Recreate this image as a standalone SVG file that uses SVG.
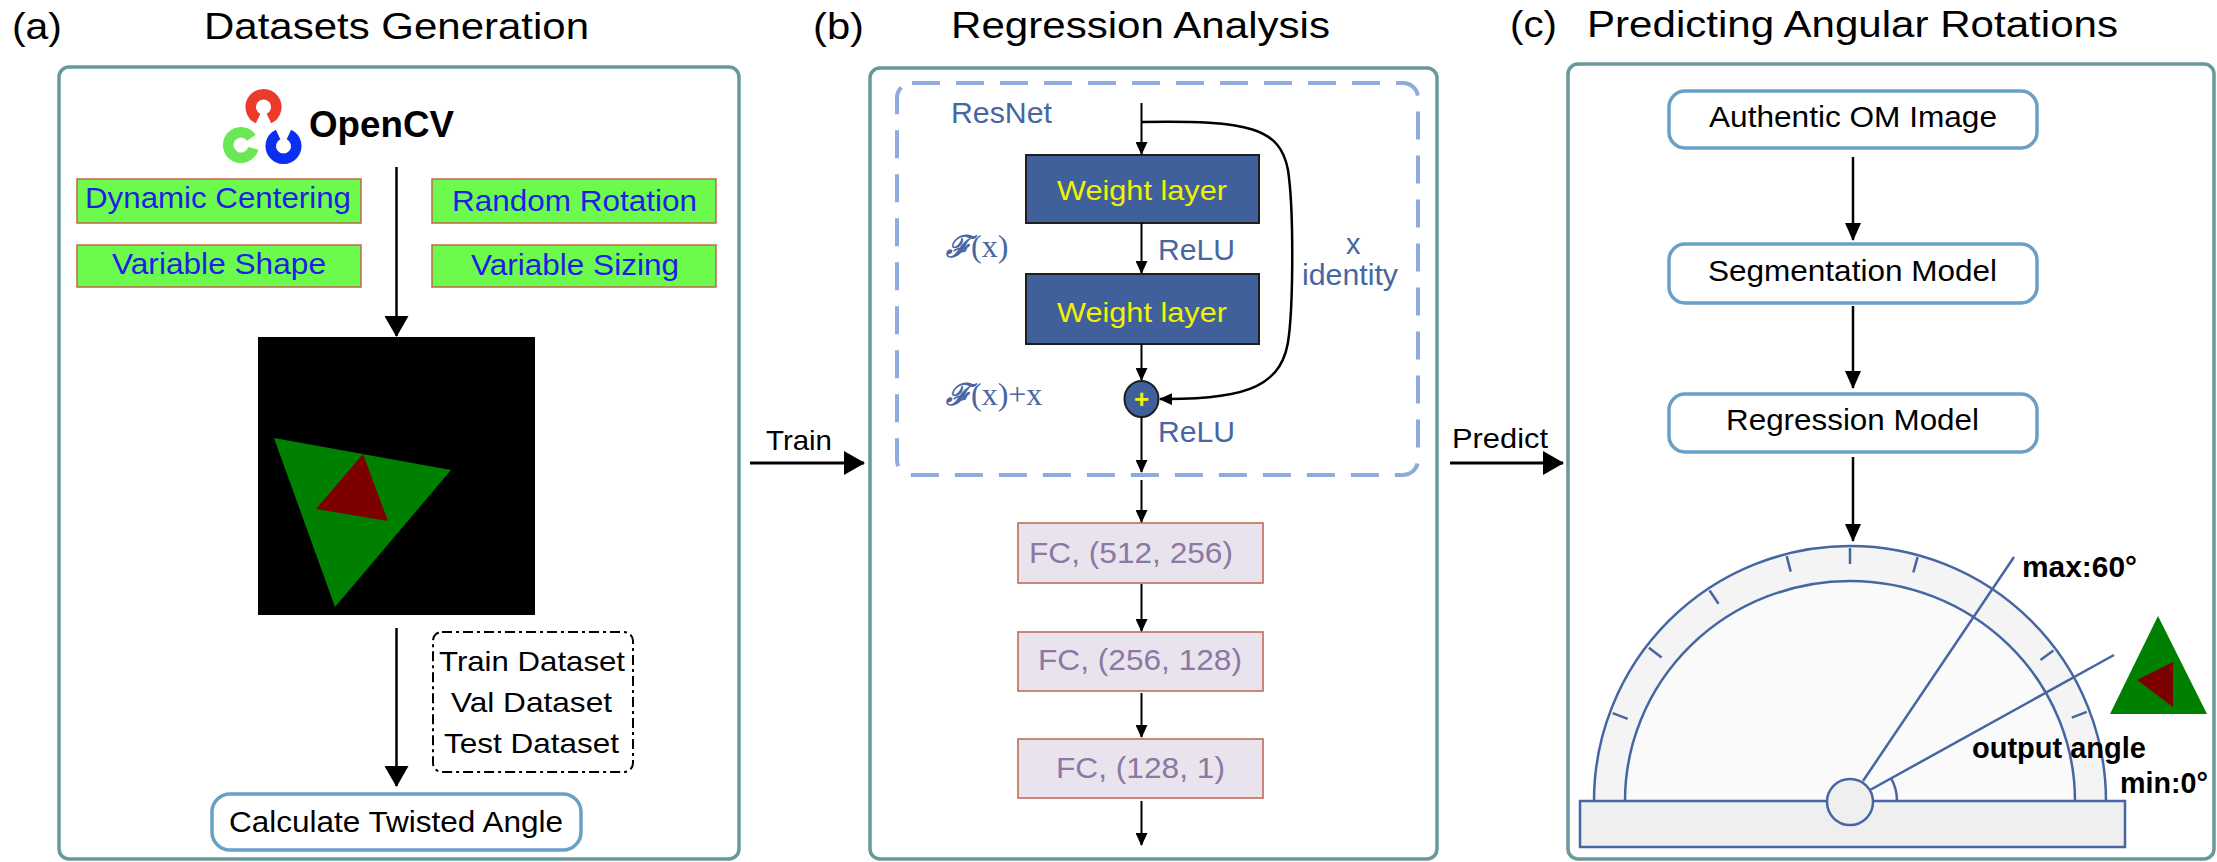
<svg xmlns="http://www.w3.org/2000/svg" width="2217" height="862" viewBox="0 0 2217 862">
  <defs>
    <style>
      .sans{font-family:"Liberation Sans",Arial,sans-serif}
      .title{font-family:"Liberation Sans",Arial,sans-serif;font-size:36px;fill:#000}
      .panel{fill:#fff;stroke:#67999a;stroke-width:3.5}
      .feat rect{fill:#6cfb4c;stroke:#c0684e;stroke-width:1.5}
      .feat text{font-family:"Liberation Sans",Arial,sans-serif;font-size:30px;fill:#1e1ee6}
      .lbl{font-family:"Liberation Sans",Arial,sans-serif;font-size:28px;fill:#000}
      .step rect{fill:#fff;stroke:#69a0c6;stroke-width:3.5}
      .step text{font-family:"Liberation Sans",Arial,sans-serif;font-size:29px;fill:#000}
      .res{font-family:"Liberation Sans",Arial,sans-serif;font-size:29px;fill:#4766a2}
      .math{font-family:"Liberation Serif","DejaVu Serif",serif;font-size:32px;fill:#4766a2}
      .wl rect{fill:#40609b;stroke:#1e1e1e;stroke-width:2}
      .wl text{font-family:"Liberation Sans",Arial,sans-serif;font-size:28px;fill:#f2f200}
      .fc rect{fill:#e9e3ee;stroke:#c06c58;stroke-width:1.6}
      .fc text{font-family:"Liberation Sans",Arial,sans-serif;font-size:30px;fill:#8b78a3}
      .conn path{fill:none;stroke:#000}
      .prot{fill:none;stroke:#4566a3;stroke-width:2.5}
      .note{font-family:"Liberation Sans",Arial,sans-serif;font-size:29px;font-weight:bold;fill:#000}
    </style>
    <marker id="big" viewBox="0 0 21 24" refX="20" refY="12" markerWidth="21" markerHeight="24" markerUnits="userSpaceOnUse" orient="auto">
      <path d="M0,0 L21,12 L0,24 z" fill="#000"/>
    </marker>
    <marker id="mid" viewBox="0 0 18 16" refX="17" refY="8" markerWidth="18" markerHeight="16" markerUnits="userSpaceOnUse" orient="auto">
      <path d="M0,0 L18,8 L0,16 z" fill="#000"/>
    </marker>
    <marker id="small" viewBox="0 0 13 12" refX="12" refY="6" markerWidth="13" markerHeight="12" markerUnits="userSpaceOnUse" orient="auto">
      <path d="M0,0 L13,6 L0,12 z" fill="#000"/>
    </marker>
    <filter id="soft" x="-5%" y="-5%" width="110%" height="110%">
      <feGaussianBlur stdDeviation="0.7"/>
    </filter>
  </defs>

  <rect width="2217" height="862" fill="#fff"/>

  <!-- section titles -->
  <g id="titles">
    <text class="title" x="12" y="39" textLength="50" lengthAdjust="spacingAndGlyphs">(a)</text>
    <text class="title" x="204" y="39" textLength="385" lengthAdjust="spacingAndGlyphs">Datasets Generation</text>
    <text class="title" x="813" y="39" textLength="51" lengthAdjust="spacingAndGlyphs">(b)</text>
    <text class="title" x="951" y="38" textLength="379" lengthAdjust="spacingAndGlyphs">Regression Analysis</text>
    <text class="title" x="1510" y="37" textLength="47" lengthAdjust="spacingAndGlyphs">(c)</text>
    <text class="title" x="1587" y="37" textLength="531" lengthAdjust="spacingAndGlyphs">Predicting Angular Rotations</text>
  </g>

  <!-- panel frames -->
  <g id="panels">
    <rect class="panel" x="59" y="67" width="680" height="792" rx="10"/>
    <rect class="panel" x="870" y="68" width="567" height="791" rx="10"/>
    <rect class="panel" x="1568" y="64" width="646" height="795" rx="10"/>
  </g>

  <!-- (a) dataset generation -->
  <g id="opencv">
    <path d="M258.1,118.55 A12.75,12.75 0 1 1 268.9,118.55" fill="none" stroke="#ee3a2a" stroke-width="10.5"/>
    <path d="M253.3,148.3 A12.75,12.75 0 1 1 251.4,137.7" fill="none" stroke="#6ae854" stroke-width="10.5"/>
    <path d="M288.9,134.45 A12.75,12.75 0 1 1 278.1,134.45" fill="none" stroke="#0b2ef0" stroke-width="10.5"/>
    <text class="sans" x="309" y="137" font-size="37" font-weight="bold" fill="#000" textLength="145" lengthAdjust="spacingAndGlyphs">OpenCV</text>
  </g>
  <g id="dynamic-centering" class="feat">
    <rect x="77" y="179" width="284" height="44"/>
    <text x="85" y="208" textLength="266" lengthAdjust="spacingAndGlyphs">Dynamic Centering</text>
  </g>
  <g id="random-rotation" class="feat">
    <rect x="432" y="179" width="284" height="44"/>
    <text x="452" y="211" textLength="245" lengthAdjust="spacingAndGlyphs">Random Rotation</text>
  </g>
  <g id="variable-shape" class="feat">
    <rect x="77" y="245" width="284" height="42"/>
    <text x="112" y="274" textLength="214" lengthAdjust="spacingAndGlyphs">Variable Shape</text>
  </g>
  <g id="variable-sizing" class="feat">
    <rect x="432" y="245" width="284" height="42"/>
    <text x="471" y="275" textLength="208" lengthAdjust="spacingAndGlyphs">Variable Sizing</text>
  </g>
  <g id="sample-image">
    <rect x="258" y="337" width="277" height="278" fill="#000"/>
    <polygon points="274,438 451,470 335,607" fill="#008000"/>
    <polygon points="363,454 316,509 388,521" fill="#7c0000"/>
  </g>
  <g id="splits">
    <rect x="433" y="632" width="200" height="140" rx="9" fill="none" stroke="#000" stroke-width="2" stroke-dasharray="10,4,3,4"/>
    <text class="lbl" x="439" y="671" textLength="186" lengthAdjust="spacingAndGlyphs">Train Dataset</text>
    <text class="lbl" x="451" y="712" textLength="161" lengthAdjust="spacingAndGlyphs">Val Dataset</text>
    <text class="lbl" x="444" y="753" textLength="175" lengthAdjust="spacingAndGlyphs">Test Dataset</text>
  </g>
  <g id="twisted-angle" class="step">
    <rect x="212" y="794" width="369" height="56" rx="18"/>
    <text x="229" y="832" textLength="334" lengthAdjust="spacingAndGlyphs">Calculate Twisted Angle</text>
  </g>

  <!-- (b) regression network -->
  <g id="resnet-block">
    <rect x="897" y="83" width="521" height="392" rx="15" fill="none" stroke="#8faadc" stroke-width="4" stroke-dasharray="28,16"/>
    <text class="res" x="951" y="123" textLength="101" lengthAdjust="spacingAndGlyphs">ResNet</text>
    <text class="math" x="946" y="257"><tspan font-family="'DejaVu Serif',serif" font-style="italic" font-weight="bold" font-size="30">ℱ</tspan>(x)</text>
    <text class="math" x="946" y="405"><tspan font-family="'DejaVu Serif',serif" font-style="italic" font-weight="bold" font-size="30">ℱ</tspan>(x)+x</text>
    <text class="res" x="1158" y="260" textLength="77" lengthAdjust="spacingAndGlyphs">ReLU</text>
    <text class="res" x="1158" y="442" textLength="77" lengthAdjust="spacingAndGlyphs">ReLU</text>
    <text class="res" x="1346" y="254">x</text>
    <text class="res" x="1302" y="285" textLength="96" lengthAdjust="spacingAndGlyphs">identity</text>
  </g>
  <g id="weight-layer-1" class="wl">
    <rect x="1026" y="155" width="233" height="68"/>
    <text x="1057" y="200" textLength="170" lengthAdjust="spacingAndGlyphs">Weight layer</text>
  </g>
  <g id="weight-layer-2" class="wl">
    <rect x="1026" y="274" width="233" height="70"/>
    <text x="1057" y="322" textLength="170" lengthAdjust="spacingAndGlyphs">Weight layer</text>
  </g>
  <g id="sum-node">
    <ellipse cx="1141.5" cy="399" rx="17" ry="18" fill="#40609b" stroke="#1e1e1e" stroke-width="2"/>
    <text class="sans" x="1141.5" y="408" font-size="26" font-weight="bold" fill="#f2f200" text-anchor="middle">+</text>
  </g>
  <g id="fc-1" class="fc">
    <rect x="1018" y="523" width="245" height="60"/>
    <text x="1029" y="563" textLength="204" lengthAdjust="spacingAndGlyphs">FC, (512, 256)</text>
  </g>
  <g id="fc-2" class="fc">
    <rect x="1018" y="632" width="245" height="59"/>
    <text x="1038" y="670" textLength="204" lengthAdjust="spacingAndGlyphs">FC, (256, 128)</text>
  </g>
  <g id="fc-3" class="fc">
    <rect x="1018" y="739" width="245" height="59"/>
    <text x="1056" y="778" textLength="169" lengthAdjust="spacingAndGlyphs">FC, (128, 1)</text>
  </g>

  <!-- (c) prediction pipeline -->
  <g id="om-image" class="step">
    <rect x="1669" y="91" width="368" height="57" rx="16"/>
    <text x="1709" y="127" textLength="288" lengthAdjust="spacingAndGlyphs">Authentic OM Image</text>
  </g>
  <g id="segmentation" class="step">
    <rect x="1669" y="244" width="368" height="59" rx="16"/>
    <text x="1708" y="281" textLength="289" lengthAdjust="spacingAndGlyphs">Segmentation Model</text>
  </g>
  <g id="regression" class="step">
    <rect x="1669" y="394" width="368" height="58" rx="16"/>
    <text x="1726" y="430" textLength="253" lengthAdjust="spacingAndGlyphs">Regression Model</text>
  </g>
  <g id="protractor">
    <g filter="url(#soft)">
      <path d="M1594,801 A256,255 0 0 1 2106,801 Z" fill="#f4f4f4"/>
      <path d="M1625,801 A225,220 0 0 1 2075,801 Z" fill="#fafafa"/>
      <path class="prot" d="M1594,801 A256,255 0 0 1 2106,801"/>
      <path class="prot" d="M1625,801 A225,220 0 0 1 2075,801"/>
      <g class="prot" stroke-width="2">
        <line x1="2086.8" y1="711.9" x2="2071.8" y2="717.6"/>
        <line x1="2053.4" y1="650.5" x2="2040.5" y2="660"/>
        <line x1="1917.6" y1="557.1" x2="1913.3" y2="572.5"/>
        <line x1="1850" y1="548" x2="1850" y2="564"/>
        <line x1="1786.7" y1="556.1" x2="1790.7" y2="571.6"/>
        <line x1="1709.6" y1="590.5" x2="1718.5" y2="603.8"/>
        <line x1="1648.9" y1="647.7" x2="1661.6" y2="657.4"/>
        <line x1="1612.7" y1="713.2" x2="1627.7" y2="718.8"/>
      </g>
      <rect x="1580" y="801" width="545" height="46" fill="#efefef" stroke="#4566a3" stroke-width="2.5"/>
      <line class="prot" x1="1863" y1="781" x2="2014" y2="557"/>
      <line class="prot" x1="1870" y1="790" x2="2114" y2="655"/>
      <path class="prot" d="M1891,778 A47,47 0 0 1 1897,801"/>
      <circle cx="1850" cy="802" r="23" fill="#efefef" stroke="#4566a3" stroke-width="2.5"/>
    </g>
    <text class="note" x="2022" y="577" textLength="115" lengthAdjust="spacingAndGlyphs">max:60°</text>
    <text class="note" x="1972" y="758" textLength="174" lengthAdjust="spacingAndGlyphs">output angle</text>
    <text class="note" x="2120" y="793" textLength="88" lengthAdjust="spacingAndGlyphs">min:0°</text>
  </g>
  <g id="rotated-shape">
    <polygon points="2158,616 2110,714 2207,714" fill="#008000"/>
    <polygon points="2173,662 2137,680 2173,707" fill="#7c0000"/>
  </g>

  <!-- connectors -->
  <g id="connectors" class="conn">
    <path d="M396.5,167 V336" stroke-width="2.5" marker-end="url(#big)"/>
    <path d="M396.5,628 V786" stroke-width="2.5" marker-end="url(#big)"/>
    <path d="M750,463 H864" stroke-width="3" marker-end="url(#big)"/>
    <path d="M1450,463 H1563" stroke-width="3" marker-end="url(#big)"/>
    <path d="M1141.5,103 V154" stroke-width="2" marker-end="url(#small)"/>
    <path d="M1141.5,223 V273" stroke-width="2" marker-end="url(#small)"/>
    <path d="M1141.5,344 V380" stroke-width="2" marker-end="url(#small)"/>
    <path d="M1141.5,417 V472" stroke-width="2" marker-end="url(#small)"/>
    <path d="M1141.5,480 V522" stroke-width="2" marker-end="url(#small)"/>
    <path d="M1141.5,584 V631" stroke-width="2" marker-end="url(#small)"/>
    <path d="M1141.5,693 V737" stroke-width="2" marker-end="url(#small)"/>
    <path d="M1141.5,801 V845" stroke-width="2" marker-end="url(#small)"/>
    <path d="M1141.5,122 C1250,120 1280,128 1288,170 C1294,210 1293,300 1289,335 C1284,385 1250,400 1160,399" stroke-width="2.5" marker-end="url(#small)"/>
    <path d="M1853,157 V240" stroke-width="2.5" marker-end="url(#mid)"/>
    <path d="M1853,306 V388" stroke-width="2.5" marker-end="url(#mid)"/>
    <path d="M1853,457 V541" stroke-width="2.5" marker-end="url(#mid)"/>
  </g>

  <g id="arrow-labels">
    <text class="lbl" x="766" y="450" textLength="66" lengthAdjust="spacingAndGlyphs">Train</text>
    <text class="lbl" x="1452" y="448" textLength="96" lengthAdjust="spacingAndGlyphs">Predict</text>
  </g>
</svg>
